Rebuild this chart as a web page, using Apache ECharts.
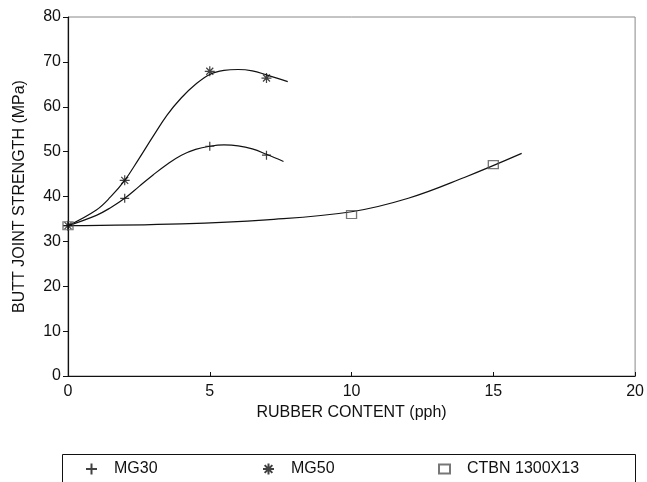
<!DOCTYPE html>
<html>
<head>
<meta charset="utf-8">
<script src="https://cdn.jsdelivr.net/npm/echarts@6/dist/echarts.min.js"></script>
<style>
	html, body { margin: 0; padding: 0; background: #fff; }
	#main { width: 647px; height: 482px; }
</style>
</head>
<body>
<div id="main"></div>
<script>
// 数据点
var mg30Points = [[0, 33.5], [2, 39.6], [5, 51.2], [7, 49.2]];
var mg50Points = [[0, 33.5], [2, 43.6], [5, 67.9], [7, 66.4]];
var ctbnPoints = [[0, 33.5], [10, 36], [15, 47.1]];

// 拟合曲线 (沿图中曲线读出的点)
var mg30Curve = [[0, 33.5], [1, 35.8], [1.5, 37.5], [2, 39.6], [2.5, 42.2], [3, 44.8], [3.5, 47.2], [4, 49.2], [4.5, 50.5], [5, 51.2], [5.5, 51.5], [6, 51.3], [6.5, 50.6], [7, 49.4], [7.6, 47.8]];
var mg50Curve = [[0, 33.5], [1, 37], [1.5, 39.9], [2, 43.6], [2.5, 48.4], [3, 53.4], [3.5, 58.2], [4, 62], [4.5, 65], [5, 67.2], [5.5, 68.1], [6, 68.3], [6.5, 68], [7, 67.1], [7.75, 65.6]];
var ctbnCurve = [[0, 33.5], [4, 33.9], [7, 34.8], [10, 36.6], [12, 39.6], [14, 44.3], [16, 49.6]];

var xTicks = [0, 5, 10, 15, 20];
var yTicks = [0, 10, 20, 30, 40, 50, 60, 70, 80];

var plusPath = 'path://M0,-10L0,10M-10,0L10,0';
var starPath = 'path://M0,-10L0,10M-10,0L10,0M-7,-7L7,7M-7,7L7,-7';
var boxPath = 'path://M-10,-8L10,-8L10,8L-10,8Z';

var font = 'Liberation Sans, Arial, sans-serif';

var myChart = echarts.init(document.getElementById('main'));

function curve(data) {
	return {
		type: 'line',
		data: data,
		smooth: 0.4,
		symbol: 'none',
		silent: true,
		lineStyle: { color: '#111', width: 1.2 },
		z: 2
	};
}

function marks(name, data, sym, size, color) {
	return {
		name: name,
		type: 'scatter',
		data: data,
		symbol: sym,
		symbolSize: size,
		itemStyle: {
			color: 'rgba(0,0,0,0)',
			borderColor: color,
			borderWidth: 1.2
		},
		z: 3
	};
}

function legendAt(name, left) {
	return {
		data: [name],
		left: left,
		top: 456,
		itemWidth: 11,
		itemHeight: 11,
		textStyle: { fontFamily: font, fontSize: 16, color: '#111', padding: [0, 0, 0, 12] }
	};
}

var option = {
	animation: false,
	textStyle: { fontFamily: font },
	grid: {
		left: 68,
		right: 11,
		top: 17,
		bottom: 106,
		show: true,
		borderColor: '#888',
		borderWidth: 1
	},
	xAxis: {
		type: 'value',
		min: 0,
		max: 20,
		interval: 5,
		name: 'RUBBER CONTENT (pph)',
		nameLocation: 'middle',
		nameGap: 29,
		nameTextStyle: { fontSize: 16, color: '#111', fontFamily: font },
		axisLine: { show: true, lineStyle: { color: '#111', width: 1.2 } },
		axisTick: { show: true, inside: true, length: 4, lineStyle: { color: '#111' } },
		axisLabel: {
			fontSize: 16, color: '#111', margin: 8, fontFamily: font,
			formatter: function (v) { return xTicks.indexOf(v) >= 0 ? v : ''; }
		},
		splitLine: { show: false }
	},
	yAxis: {
		type: 'value',
		min: 0,
		max: 80,
		interval: 10,
		name: 'BUTT JOINT STRENGTH (MPa)',
		nameLocation: 'middle',
		nameGap: 40,
		nameTextStyle: { fontSize: 16, color: '#111', fontFamily: font },
		axisLine: { show: true, lineStyle: { color: '#111', width: 1.2 } },
		axisTick: { show: true, length: 5, lineStyle: { color: '#111' } },
		axisLabel: {
			fontSize: 16, color: '#111', margin: 7, fontFamily: font,
			formatter: function (v) { return yTicks.indexOf(v) >= 0 ? v : ''; }
		},
		splitLine: { show: false }
	},
	legend: [
		legendAt('MG30', 80),
		legendAt('MG50', 257),
		legendAt('CTBN 1300X13', 433)
	],
	graphic: [{
		type: 'rect',
		left: 60,
		top: 452,
		shape: { width: 573, height: 40 },
		style: { fill: 'none', stroke: '#111', lineWidth: 1 }
	}],
	series: [
		curve(mg30Curve),
		curve(mg50Curve),
		curve(ctbnCurve),
		marks('MG30', mg30Points, plusPath, 9, '#111'),
		marks('MG50', mg50Points, starPath, 10, '#111'),
		marks('CTBN 1300X13', ctbnPoints, boxPath, [10, 8], '#555')
	]
};

myChart.setOption(option);
</script>
</body>
</html>
